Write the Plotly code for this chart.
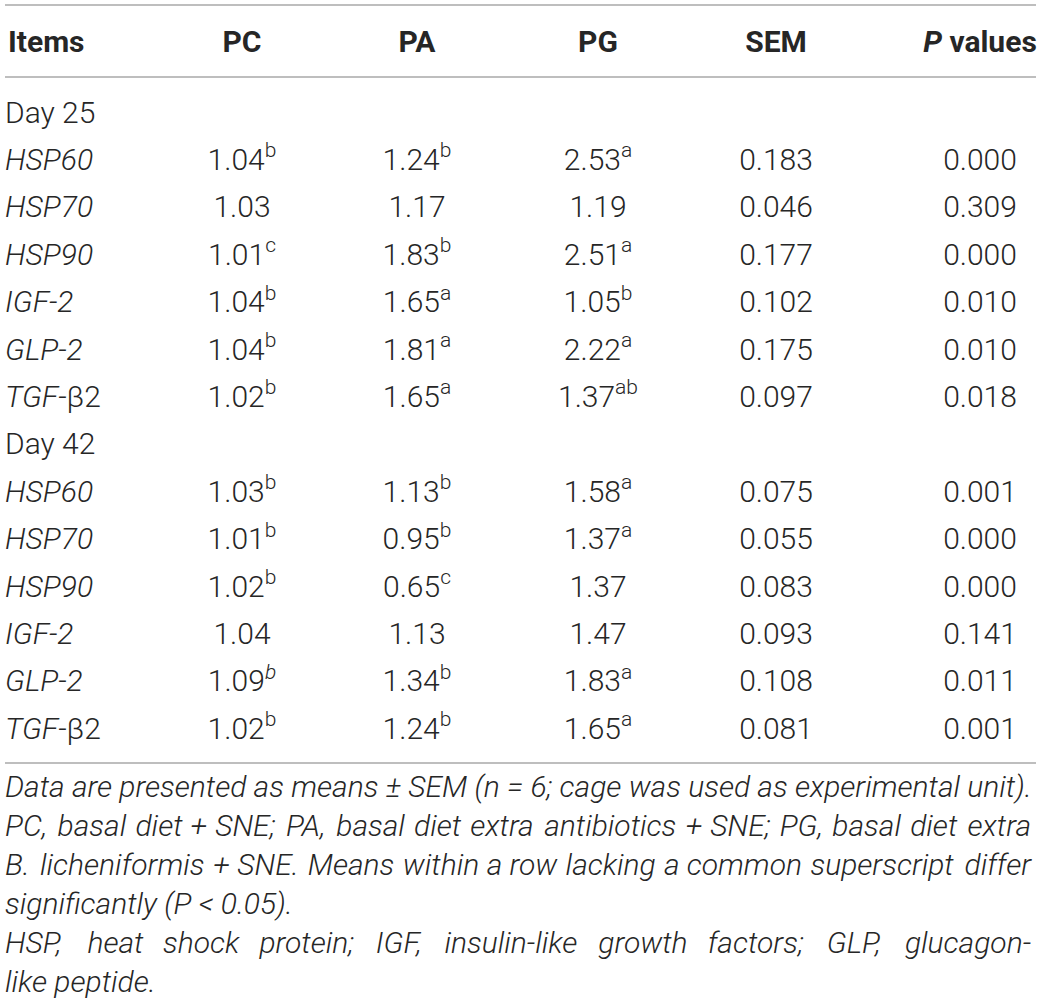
import plotly.graph_objects as go

# table values (relative mRNA expression)
items = ["HSP60", "HSP70", "HSP90", "IGF-2", "GLP-2", "TGF-β2"]
headers = ["PC", "PA", "PG", "SEM", "<i>P</i> values"]

d25_pc = [1.04, 1.03, 1.01, 1.04, 1.04, 1.02]
d25_pc_sup = ["b", "", "c", "b", "b", "b"]
d25_pa = [1.24, 1.17, 1.83, 1.65, 1.81, 1.65]
d25_pa_sup = ["b", "", "b", "a", "a", "a"]
d25_pg = [2.53, 1.19, 2.51, 1.05, 2.22, 1.37]
d25_pg_sup = ["a", "", "a", "b", "a", "ab"]
d25_sem = [0.183, 0.046, 0.177, 0.102, 0.175, 0.097]
d25_p = [0.000, 0.309, 0.000, 0.010, 0.010, 0.018]

d42_pc = [1.03, 1.01, 1.02, 1.04, 1.09, 1.02]
d42_pc_sup = ["b", "b", "b", "", "<i>b</i>", "b"]
d42_pa = [1.13, 0.95, 0.65, 1.13, 1.34, 1.24]
d42_pa_sup = ["b", "b", "c", "", "b", "b"]
d42_pg = [1.58, 1.37, 1.37, 1.47, 1.83, 1.65]
d42_pg_sup = ["a", "a", "", "", "a", "a"]
d42_sem = [0.075, 0.055, 0.083, 0.093, 0.108, 0.081]
d42_p = [0.001, 0.000, 0.000, 0.141, 0.011, 0.001]

footnote = [
    "Data are presented as means ± SEM (n = 6; cage was used as experimental unit).",
    "PC, basal diet + SNE; PA, basal diet extra antibiotics + SNE; PG, basal diet extra",
    "B. licheniformis + SNE. Means within a row lacking a common superscript differ",
    "significantly (P < 0.05).",
    "HSP, heat shock protein; IGF, insulin-like growth factors; GLP, glucagon-",
    "like peptide.",
]
justified = [False, True, True, False, True, False]

# layout constants (page pixels)
W, H = 1042, 998
col_x = [242, 417, 598, 776, 980]
left_x = 5
right_x = 1031
dy = 3  # plotly's "middle" sits a little above the visual centre
header_y = 41 + dy
row0_y = 112 + dy
row_step = 47.4
foot0_y = 786 + dy
foot_step = 39
txt_color = "#262626"
font = "Roboto"
fs = 30
foot_fs = 30

# rough Roboto advance widths (em) used to spread the justified footnote lines
cw = dict(a=.544, b=.548, c=.511, d=.550, e=.517, f=.338, g=.548, h=.537, i=.237, j=.233, k=.495,
          l=.237, m=.855, n=.539, o=.557, p=.548, q=.550, r=.331, s=.503, t=.319, u=.537, v=.473,
          w=.733, x=.484, y=.462, z=.484, A=.652, B=.623, C=.651, D=.656, E=.568, F=.552, G=.681,
          H=.713, I=.272, L=.539, M=.876, N=.713, P=.631, S=.594)
cw.update({",": .192, ";": .207, ".": .257, "-": .270, "+": .554, " ": .248})


def est_w(s, size):
    return sum(cw.get(ch, .52) for ch in s) * size


def item_label(s):
    if "β" in s:
        a, b = s.split("β")
        return f"<i>{a}</i>β{b}"
    return f"<i>{s}</i>"


def with_sup(vals, sups):
    return [f"{v:.2f}<sup>{s}</sup>" if s else f"{v:.2f}" for v, s in zip(vals, sups)]


# build rows: label + 5 columns
rows = [("Day 25", None)]
for i, it in enumerate(items):
    rows.append((item_label(it), [with_sup(d25_pc, d25_pc_sup)[i], with_sup(d25_pa, d25_pa_sup)[i],
                                  with_sup(d25_pg, d25_pg_sup)[i], f"{d25_sem[i]:.3f}", f"{d25_p[i]:.3f}"]))
rows.append(("Day 42", None))
for i, it in enumerate(items):
    rows.append((item_label(it), [with_sup(d42_pc, d42_pc_sup)[i], with_sup(d42_pa, d42_pa_sup)[i],
                                  with_sup(d42_pg, d42_pg_sup)[i], f"{d42_sem[i]:.3f}", f"{d42_p[i]:.3f}"]))

row_y = [row0_y + k * row_step for k in range(len(rows))]

fig = go.Figure()
tf = dict(family=font, size=fs, color=txt_color, weight=300)

# header
fig.add_trace(go.Scatter(x=[left_x + 3], y=[header_y], text=["<b>Items</b>"], mode="text",
                         textposition="middle right", textfont=tf, cliponaxis=False))
fig.add_trace(go.Scatter(x=col_x, y=[header_y] * 5, text=[f"<b>{h}</b>" for h in headers], mode="text",
                         textposition="middle center", textfont=tf, cliponaxis=False))

# row labels
fig.add_trace(go.Scatter(x=[left_x] * len(rows), y=row_y, text=[r[0] for r in rows], mode="text",
                         textposition="middle right", textfont=tf, cliponaxis=False))

# cell values
for c in range(5):
    xs, ys, ts = [], [], []
    for r, y in zip(rows, row_y):
        if r[1] is None:
            continue
        xs.append(col_x[c])
        ys.append(y)
        ts.append(r[1][c])
    fig.add_trace(go.Scatter(x=xs, y=ys, text=ts, mode="text", textposition="middle center",
                             textfont=tf, cliponaxis=False))

# footnote (justified lines are split into words spread across the width)
fx, fy, ft, fp = [], [], [], []
for k, (line, just) in enumerate(zip(footnote, justified)):
    y = foot0_y + k * foot_step
    if not just:
        fx.append(left_x); fy.append(y); ft.append(f"<i>{line}</i>"); fp.append("middle right")
        continue
    words = line.split(" ")
    ws = [est_w(w, foot_fs) for w in words]
    gap = (right_x - left_x - sum(ws)) / (len(words) - 1)
    x = left_x
    for j, (w, wd) in enumerate(zip(words, ws)):
        if j == 0:
            fx.append(left_x); fp.append("middle right")
        elif j == len(words) - 1:
            fx.append(right_x); fp.append("middle left")
        else:
            fx.append(x + wd / 2); fp.append("middle center")
        fy.append(y)
        ft.append(f"<i>{w}</i>")
        x += wd + gap

fig.add_trace(go.Scatter(x=fx, y=fy, text=ft, mode="text", textposition=fp,
                         textfont=dict(family=font, size=foot_fs, color=txt_color, weight=300),
                         cliponaxis=False))

# horizontal rules
for y in [5, 77, 763]:
    fig.add_shape(type="line", x0=5, x1=1036, y0=y, y1=y, xref="x", yref="y",
                  line=dict(color="#a8a8a8", width=1.5))

fig.update_traces(hoverinfo="skip")
fig.update_layout(
    width=W, height=H,
    margin=dict(l=0, r=0, t=0, b=0),
    paper_bgcolor="white", plot_bgcolor="white",
    showlegend=False,
    xaxis=dict(range=[0, W], visible=False, fixedrange=True),
    yaxis=dict(range=[H, 0], visible=False, fixedrange=True),
)
# drop the default 8px body margin so the figure fills the window exactly
fig.write_html("out.html", config={"displayModeBar": False},
               post_script="document.body.style.margin='0';")
